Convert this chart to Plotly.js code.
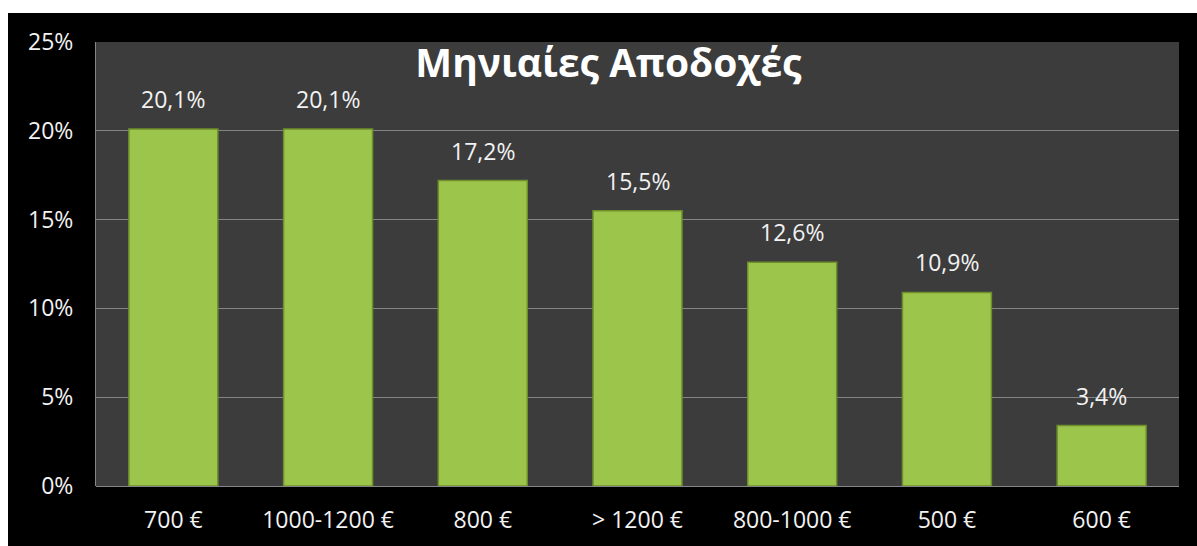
<!DOCTYPE html>
<html>
<head>
<meta charset="utf-8">
<script src="https://cdn.plot.ly/plotly-3.0.1.min.js"></script>
<style>
  html, body { margin: 0; padding: 0; background: #ffffff; }
  #chart { position: absolute; left: 8px; top: 13px; width: 1189px; height: 533px; }
</style>
</head>
<body>
<div id="chart"></div>
<script>
// Μηνιαίες αποδοχές (%)
const categories = ['700 €', '1000-1200 €', '800 €', '> 1200 €', '800-1000 €', '500 €', '600 €'];
const shares = [20.1, 20.1, 17.2, 15.5, 12.6, 10.9, 3.4];
const yTicks = [0, 5, 10, 15, 20, 25];

const fmt = v => v.toFixed(1).replace('.', ',') + '%';

const data = [{
    type: 'bar',
    x: categories,
    y: shares,
    width: 0.575,
    marker: {
        color: '#9cc64b',
        line: { color: '#6f8f2d', width: 1.5 }
    },
    hoverinfo: 'x+y'
}];

const labels = categories.map((c, i) => ({
    x: c,
    y: shares[i],
    xref: 'x',
    yref: 'y',
    text: fmt(shares[i]),
    showarrow: false,
    yanchor: 'bottom',
    yshift: 12,
    font: { family: 'Open Sans, sans-serif', size: 23, color: '#f2f2f2' }
}));

const layout = {
    width: 1189,
    height: 533,
    paper_bgcolor: '#000000',
    plot_bgcolor: '#3c3c3c',
    font: { family: 'Open Sans, sans-serif', size: 23, color: '#f2f2f2' },
    margin: { l: 88, r: 18, t: 29, b: 60 },
    showlegend: false,
    title: {
        text: '<b>Μηνιαίες Αποδοχές</b>',
        font: { family: 'Open Sans, sans-serif', size: 39, color: '#ffffff' },
        x: 0.505,
        xanchor: 'center',
        yref: 'container',
        y: 0.906,
        yanchor: 'middle'
    },
    xaxis: {
        type: 'category',
        showgrid: false,
        zeroline: false,
        showline: false,
        ticks: '',
        ticklabelstandoff: 18,
        tickfont: { size: 23, color: '#f2f2f2' }
    },
    yaxis: {
        range: [0, 25],
        tickvals: yTicks,
        ticktext: yTicks.map(t => t + '%'),
        showgrid: true,
        gridcolor: '#858585',
        gridwidth: 1,
        zeroline: true,
        zerolinecolor: '#858585',
        showline: true,
        linecolor: '#858585',
        ticks: '',
        ticklabelstandoff: 17,
        tickfont: { size: 23, color: '#f2f2f2' }
    },
    annotations: labels
};

Plotly.newPlot('chart', data, layout, { displayModeBar: false, staticPlot: true });
</script>
</body>
</html>
